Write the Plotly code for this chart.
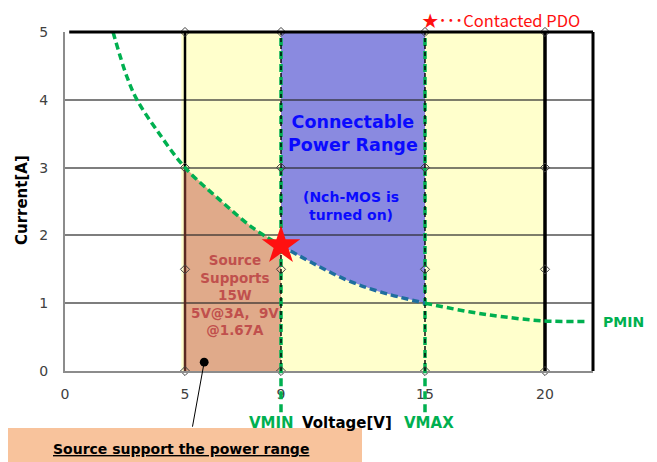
import plotly.graph_objects as go

# ---------------- data ----------------
PMIN_V = [2.0, 2.58, 3.0, 3.83, 5.0, 6.46, 7.83, 9.0, 10.33, 11.75, 13.1, 15.0, 16.9, 18.25, 19.9, 21.75]
PMIN_I = [5.0, 4.34, 4.0, 3.55, 3.0, 2.52, 2.11, 1.85, 1.59, 1.34, 1.17, 1.0, 0.87, 0.80, 0.74, 0.73]
VMIN = 9
VMAX = 15
PDO_V = [9]
PDO_I = [1.85]
GUIDE_X = [5, 9, 15, 20]
GUIDE_Y = [0, 1.5, 3, 5]
SOURCE_V = [5, 9]
YELLOW_V = [4.85, 20]
I_MAX = 5
V_MAX_AXIS = 22
X_TICKS = [0, 5, 9, 15, 20]
Y_TICKS = [0, 1, 2, 3, 4, 5]
CALLOUT_PT = [5.8, 0.13]

GREEN = "#00B050"
FONT = "DejaVu Sans"

pts = list(zip(PMIN_V, PMIN_I))
seg_a = [p for p in pts if p[0] <= VMIN]
seg_b = [p for p in pts if VMIN <= p[0] <= VMAX]
seg_c = [p for p in pts if p[0] >= VMAX]

fig = go.Figure()

# ---- filled regions as shapes below gridlines ----
shapes = []
shapes.append(dict(type="rect", xref="x", yref="y", x0=YELLOW_V[0], x1=YELLOW_V[1], y0=0, y1=I_MAX,
                   fillcolor="#FFFFCC", line=dict(width=0), layer="below"))
src = [p for p in pts if SOURCE_V[0] <= p[0] <= SOURCE_V[1]]
path = f"M {SOURCE_V[0]},0 " + " ".join(f"L {v},{i}" for v, i in src) + f" L {SOURCE_V[1]},0 Z"
shapes.append(dict(type="path", xref="x", yref="y", path=path, fillcolor="#E0AA8A",
                   line=dict(width=0), layer="below"))
path = f"M {VMIN},{I_MAX} " + " ".join(f"L {v},{i}" for v, i in seg_b) + f" L {VMAX},{I_MAX} Z"
shapes.append(dict(type="path", xref="x", yref="y", path=path, fillcolor="#8A8AE0",
                   line=dict(width=0), layer="below"))

# green VMIN / VMAX extension below the axis
for xv in (VMIN, VMAX):
    shapes.append(dict(type="line", xref="x", yref="paper", x0=xv, x1=xv, y0=-0.122, y1=0,
                       line=dict(color=GREEN, width=3.5, dash="8px,5px"), layer="above"))

# frame lines (top, right)
shapes.append(dict(type="line", xref="paper", yref="paper", x0=0.008, x1=1, y0=1, y1=1,
                   line=dict(color="black", width=3)))
shapes.append(dict(type="line", xref="paper", yref="paper", x0=1, x1=1, y0=0, y1=1,
                   line=dict(color="black", width=3)))
# bottom caption box
shapes.append(dict(type="rect", xref="paper", yref="paper", x0=-0.117, x1=0.5625, y0=-0.27, y1=-0.168,
                   fillcolor="#F8C39C", line=dict(width=0), layer="above"))

# ---- guide vertical lines ----
fig.add_trace(go.Scatter(x=[GUIDE_X[0]] * 3, y=[y for y in GUIDE_Y if y <= 3], mode="lines",
                         line=dict(color="#5A2A22", width=2.5), hoverinfo="skip"))
fig.add_trace(go.Scatter(x=[GUIDE_X[0]] * 2, y=[y for y in GUIDE_Y if y >= 3], mode="lines",
                         line=dict(color="black", width=2.5), hoverinfo="skip"))
for xv in (VMIN, VMAX):
    fig.add_trace(go.Scatter(x=[xv] * len(GUIDE_Y), y=GUIDE_Y, mode="lines",
                             line=dict(color=GREEN, width=3.5, dash="8px,5px"), hoverinfo="skip"))
    fig.add_trace(go.Scatter(x=[xv] * len(GUIDE_Y), y=GUIDE_Y, mode="lines",
                             line=dict(color="black", width=1.4, dash="4px,3px"), hoverinfo="skip"))
fig.add_trace(go.Scatter(x=[GUIDE_X[3]] * len(GUIDE_Y), y=GUIDE_Y, mode="lines",
                         line=dict(color="black", width=3.5), hoverinfo="skip"))
mx, my = [], []
for xv in GUIDE_X:
    for yv in GUIDE_Y:
        mx.append(xv)
        my.append(yv)
fig.add_trace(go.Scatter(x=mx, y=my, mode="markers", cliponaxis=False,
                         marker=dict(symbol="diamond-open", size=7, color="#404040",
                                     line=dict(width=1, color="#404040")), hoverinfo="skip"))

# ---- PMIN curve ----
for seg, col in ((seg_a, GREEN), (seg_b, "#1F6E9E"), (seg_c, GREEN)):
    fig.add_trace(go.Scatter(x=[p[0] for p in seg], y=[p[1] for p in seg], mode="lines",
                             line=dict(color=col, width=3.5, dash="7px,4px", shape="spline"),
                             hoverinfo="skip"))

# ---- contacted PDO star ----
fig.add_trace(go.Scatter(x=PDO_V, y=PDO_I, mode="markers", cliponaxis=False,
                         marker=dict(symbol="star", size=29, color="#FF1010", line=dict(width=0)),
                         hoverinfo="skip"))


def note(text, x, y, xa="center", ya="middle", data=False, **font):
    f = dict(family=FONT, size=14, color="black")
    f.update(font)
    return dict(text=text, x=x, y=y, xref="x" if data else "paper", yref="y" if data else "paper",
                xanchor=xa, yanchor=ya, showarrow=False, font=f)


ann = [
    note("<b>Connectable<br>Power Range</b>", 12.0, 3.5, data=True, size=17.5, color="#0A0AFF"),
    note("<b>(Nch-MOS is<br>turned on)</b>", 11.9, 2.43, data=True, size=14, color="#0A0AFF"),
    note("<b>Source<br>Supports<br>15W<br>5V@3A,  9V<br>@1.67A</b>", 7.08, 1.12, data=True,
         size=13.5, color="#C0504D"),
    note("★･･･Contacted PDO", 0.672, 1.034, xa="left",
         family="Noto Sans CJK JP", size=16.5, color="#FF1010"),
    note("<b>PMIN</b>", 1.015, 0.1445, xa="left", color=GREEN),
    note("<b>VMIN</b>", 0.438, -0.153, xa="right", size=15, color=GREEN),
    note("<b>Voltage[V]</b>", 0.445, -0.153, xa="left", size=15),
    note("<b>VMAX</b>", 0.638, -0.153, xa="left", size=15, color=GREEN),
    note("<b>Current[A]</b>", -0.081, 0.505, size=15),
    note("<b><u>Source support the power range</u></b>", 0.22, -0.229, size=14),
]
ann[8]["textangle"] = -90
ann.append(dict(x=CALLOUT_PT[0], y=CALLOUT_PT[1], xref="x", yref="y", text="", showarrow=True,
                ax=-12, ay=66, arrowhead=6, arrowsize=2.2, arrowwidth=1, arrowcolor="black",
                startstandoff=0, standoff=0))

# the page body adds an 8px offset; the figure is sized to fill the window after it
fig.update_layout(
    width=649, height=454,
    margin=dict(l=57, r=64, t=24, b=91),
    paper_bgcolor="white", plot_bgcolor="white",
    showlegend=False,
    shapes=shapes, annotations=ann,
    xaxis=dict(range=[0, V_MAX_AXIS], tickvals=X_TICKS, ticktext=[str(t) for t in X_TICKS],
               showgrid=False, zeroline=False, showline=True, linecolor="#8C8C8C", linewidth=2,
               ticks="outside", ticklen=9, tickcolor="rgba(0,0,0,0)",
               tickfont=dict(family=FONT, size=14, color="#404040")),
    yaxis=dict(range=[0, I_MAX], tickvals=Y_TICKS, showgrid=True,
               gridcolor="rgba(40,40,40,0.6)", gridwidth=1.5, zeroline=False,
               showline=True, linecolor="#8C8C8C", linewidth=2,
               ticks="outside", ticklen=12, tickcolor="rgba(0,0,0,0)",
               tickfont=dict(family=FONT, size=14, color="#404040")),
)

fig.write_html("out.html")
